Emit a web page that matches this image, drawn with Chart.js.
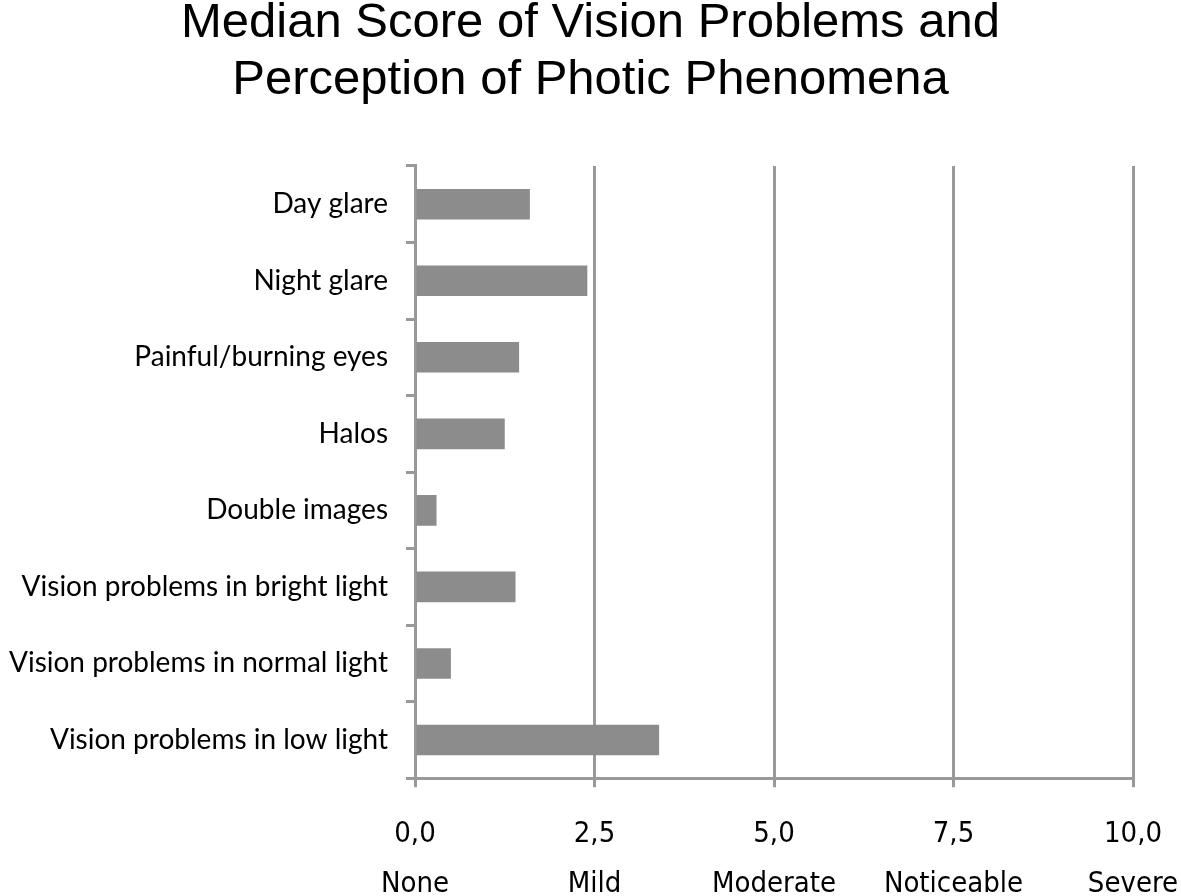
<!DOCTYPE html>
<html>
<head>
<meta charset="utf-8">
<title>Median Score of Vision Problems</title>
<style>
    html, body { margin: 0; padding: 0; background: #fff; }
</style>
</head>
<body>
<canvas id="myChart" width="1181" height="896"></canvas>

<script src="https://cdn.jsdelivr.net/npm/chart.js"></script>
<script>
    const categories = [
        'Day glare',
        'Night glare',
        'Painful/burning eyes',
        'Halos',
        'Double images',
        'Vision problems in bright light',
        'Vision problems in normal light',
        'Vision problems in low light'
    ];
    const medianScores = [1.6, 2.4, 1.45, 1.25, 0.3, 1.4, 0.5, 3.4];
    const severityLabels = ['None', 'Mild', 'Moderate', 'Noticeable', 'Severe'];
    const titleLines = ['Median Score of Vision Problems and', 'Perception of Photic Phenomena'];

    const gray = '#999999';
    const ctx = document.getElementById('myChart');

    new Chart(ctx, {
        type: 'bar',
        data: {
            labels: categories,
            datasets: [
                {
                    label: 'Median score',
                    data: medianScores,
                    backgroundColor: '#8c8c8c',
                    borderWidth: 0,
                    barPercentage: 0.4,
                    categoryPercentage: 1.0
                }
            ]
        },
        options: {
            indexAxis: 'y',
            responsive: false,
            animation: false,
            layout: {
                padding: { left: 0, right: 0, top: 0, bottom: -35 }
            },
            plugins: {
                legend: { display: false },
                tooltip: { enabled: false },
                title: {
                    display: true,
                    text: titleLines,
                    color: '#000',
                    font: { family: 'Liberation Sans', size: 49, weight: 'normal', lineHeight: 1.163 },
                    padding: { top: -5, bottom: 57 }
                }
            },
            scales: {
                x: {
                    min: 0,
                    max: 10,
                    border: { color: gray, width: 3 },
                    grid: {
                        color: gray,
                        lineWidth: 3,
                        tickLength: 9,
                        drawTicks: true
                    },
                    ticks: {
                        stepSize: 2.5,
                        color: '#000',
                        padding: 22,
                        font: { family: "'DejaVu Sans Condensed', 'Liberation Sans'", size: 29, lineHeight: 1.72 },
                        callback: (value) => {
                            const idx = Math.round(value / 2.5);
                            return [value.toFixed(1).replace('.', ','), severityLabels[idx]];
                        }
                    },
                    afterFit: (scale) => {
                        scale.paddingLeft = 0;
                        scale.paddingRight = 48;
                    }
                },
                y: {
                    border: { color: gray, width: 3 },
                    grid: {
                        display: true,
                        offset: true,
                        drawOnChartArea: false,
                        color: gray,
                        lineWidth: 3,
                        tickLength: 9
                    },
                    ticks: {
                        color: '#000',
                        padding: 18,
                        font: { family: 'Lato', size: 28 }
                    },
                    afterFit: (scale) => {
                        scale.width = 415;
                    }
                }
            }
        }
    });
</script>
</body>
</html>
